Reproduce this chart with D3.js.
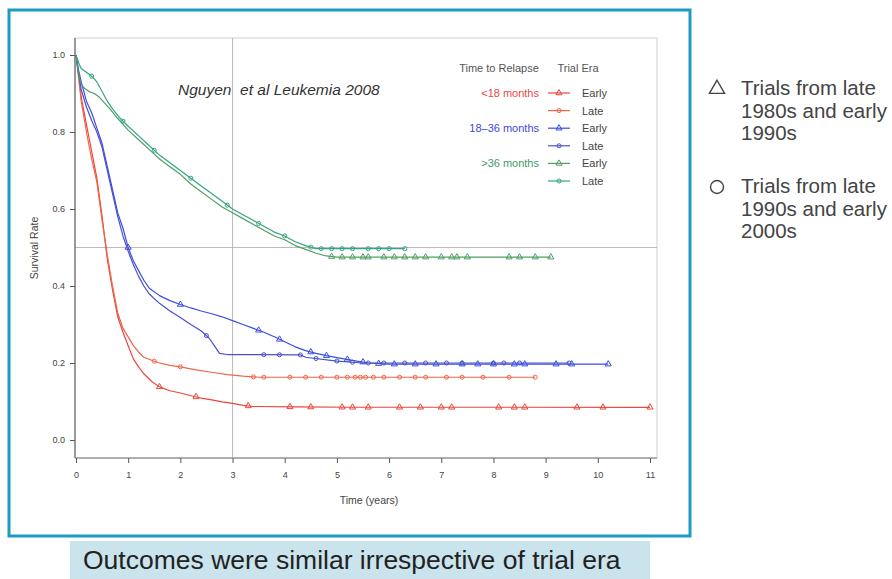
<!DOCTYPE html>
<html>
<head>
<meta charset="utf-8">
<script src="https://cdn.jsdelivr.net/npm/d3@7"></script>
<style>
  html, body { margin: 0; padding: 0; background: #fff; }
  svg { display: block; font-family: "Liberation Sans", Arial, sans-serif; }
</style>
</head>
<body>
<svg id="chart" width="892" height="579"></svg>
<script>
// Kaplan-Meier survival after relapse, by time to relapse and trial era
const yearTicks = [0, 1, 2, 3, 4, 5, 6, 7, 8, 9, 10, 11];
const rateTicks = [0, 0.2, 0.4, 0.6, 0.8, 1.0];

// survival points [years, rate]
const lt18Early = [[0,1],[0.05,0.95],[0.1,0.89],[0.2,0.82],[0.3,0.75],[0.4,0.68],[0.5,0.58],[0.6,0.47],[0.7,0.39],[0.8,0.32],[0.9,0.28],[1.0,0.245],[1.1,0.21],[1.2,0.19],[1.3,0.172],[1.45,0.152],[1.6,0.138],[1.8,0.128],[2.0,0.122],[2.2,0.115],[2.4,0.109],[2.6,0.104],[2.8,0.099],[3.0,0.095],[3.2,0.09],[3.4,0.087],[4.2,0.086],[5.3,0.085],[11.0,0.085]];
const lt18Late = [[0,1],[0.05,0.94],[0.1,0.88],[0.2,0.8],[0.3,0.73],[0.4,0.67],[0.5,0.57],[0.6,0.48],[0.7,0.40],[0.8,0.33],[0.9,0.29],[1.0,0.268],[1.1,0.245],[1.2,0.228],[1.3,0.215],[1.45,0.207],[1.6,0.2],[1.8,0.194],[2.0,0.19],[2.3,0.182],[2.6,0.176],[2.9,0.17],[3.2,0.166],[3.5,0.163],[8.8,0.163]];
const mid36Early = [[0,1],[0.05,0.96],[0.1,0.93],[0.2,0.88],[0.3,0.85],[0.4,0.81],[0.5,0.77],[0.6,0.71],[0.7,0.65],[0.8,0.59],[0.9,0.55],[1.0,0.5],[1.1,0.465],[1.2,0.44],[1.3,0.415],[1.4,0.395],[1.6,0.375],[1.8,0.362],[2.0,0.352],[2.2,0.343],[2.4,0.335],[2.6,0.328],[2.8,0.32],[3.0,0.31],[3.2,0.3],[3.4,0.29],[3.6,0.28],[3.8,0.268],[4.0,0.255],[4.2,0.242],[4.4,0.232],[4.6,0.225],[4.8,0.219],[5.0,0.214],[5.3,0.207],[5.6,0.2],[6.0,0.197],[10.2,0.197]];
const mid36Late = [[0,1],[0.05,0.95],[0.1,0.91],[0.2,0.865],[0.3,0.83],[0.4,0.8],[0.5,0.76],[0.6,0.7],[0.7,0.64],[0.8,0.58],[0.9,0.53],[1.0,0.49],[1.1,0.455],[1.2,0.425],[1.3,0.4],[1.4,0.38],[1.6,0.355],[1.8,0.335],[2.0,0.318],[2.2,0.3],[2.4,0.283],[2.55,0.265],[2.65,0.245],[2.75,0.225],[2.9,0.222],[4.3,0.221],[4.4,0.215],[5.0,0.205],[5.5,0.2],[9.45,0.2]];
const gt36Early = [[0,1],[0.03,0.97],[0.08,0.93],[0.15,0.915],[0.25,0.905],[0.35,0.9],[0.45,0.89],[0.55,0.875],[0.65,0.86],[0.8,0.835],[1.0,0.805],[1.2,0.78],[1.4,0.755],[1.6,0.73],[1.8,0.71],[2.0,0.69],[2.2,0.665],[2.4,0.645],[2.6,0.625],[2.8,0.605],[3.0,0.59],[3.2,0.575],[3.4,0.56],[3.6,0.545],[3.8,0.53],[4.0,0.52],[4.2,0.505],[4.4,0.495],[4.6,0.485],[4.8,0.478],[5.0,0.475],[9.1,0.475]];
const gt36Late = [[0,1],[0.05,0.98],[0.1,0.965],[0.2,0.955],[0.3,0.945],[0.4,0.93],[0.5,0.905],[0.6,0.88],[0.7,0.86],[0.85,0.835],[1.0,0.815],[1.2,0.79],[1.4,0.765],[1.6,0.74],[1.8,0.72],[2.0,0.70],[2.2,0.68],[2.4,0.66],[2.6,0.64],[2.8,0.62],[3.0,0.60],[3.2,0.585],[3.4,0.57],[3.6,0.555],[3.8,0.54],[4.0,0.53],[4.2,0.515],[4.4,0.505],[4.6,0.497],[6.3,0.497]];

// censoring times (years)
const lt18EarlyCens = [1.6, 2.3, 3.3, 4.1, 4.5, 5.1, 5.3, 5.6, 6.2, 6.6, 7.0, 7.2, 8.1, 8.4, 8.6, 9.6, 10.1, 11.0];
const lt18LateCens = [1.5, 2.0, 3.4, 3.6, 4.1, 4.4, 4.7, 5.0, 5.2, 5.35, 5.45, 5.55, 5.7, 5.9, 6.2, 6.5, 6.7, 7.1, 7.4, 7.8, 8.3, 8.8];
const mid36EarlyCens = [1.0, 2.0, 3.5, 3.9, 4.5, 4.8, 5.2, 5.5, 5.8, 6.1, 6.5, 6.9, 7.4, 7.7, 8.0, 8.4, 8.6, 9.2, 9.5, 10.2];
const mid36LateCens = [2.5, 3.6, 3.9, 4.3, 4.6, 5.0, 5.3, 5.6, 5.9, 6.3, 6.7, 7.1, 7.4, 8.0, 8.2, 8.5, 9.45];
const gt36EarlyCens = [4.9, 5.1, 5.3, 5.5, 5.6, 5.9, 6.1, 6.3, 6.5, 6.7, 7.0, 7.2, 7.3, 7.5, 8.3, 8.5, 8.8, 9.1];
const gt36LateCens = [0.3, 0.9, 1.5, 2.2, 2.9, 3.5, 4.0, 4.5, 4.7, 4.9, 5.1, 5.3, 5.6, 5.8, 6.0, 6.3];

const groupLabels = ["<18 months", "18\u201336 months", ">36 months"];
const eraLabels = ["Early", "Late"];
const groupColors = ["#e8493e", "#3b49dc", "#3f9a68"];

const series = [
  { pts: lt18Early, cens: lt18EarlyCens, color: "#e8473d", era: 0 },
  { pts: lt18Late, cens: lt18LateCens, color: "#ee6649", era: 1 },
  { pts: mid36Early, cens: mid36EarlyCens, color: "#3a4ee2", era: 0 },
  { pts: mid36Late, cens: mid36LateCens, color: "#4a4fcc", era: 1 },
  { pts: gt36Early, cens: gt36EarlyCens, color: "#4f9f62", era: 0 },
  { pts: gt36Late, cens: gt36LateCens, color: "#35a384", era: 1 }
];

const svg = d3.select("#chart");

// slide frame
svg.append("rect").attr("x", 9).attr("y", 10).attr("width", 681).attr("height", 526)
  .attr("fill", "#fff").attr("stroke", "#1c9cc0").attr("stroke-width", 3);

const x = d3.scaleLinear().domain([0, 11]).range([76, 650]);
const y = d3.scaleLinear().domain([0, 1]).range([440, 55]);

// plot box
svg.append("rect").attr("x", 75).attr("y", 38).attr("width", 582).attr("height", 420)
  .attr("fill", "none").attr("stroke", "#c4c4c4").attr("stroke-width", 0.8);

// reference lines at 3 years and 50%
svg.append("line").attr("x1", x(3)).attr("x2", x(3)).attr("y1", 38).attr("y2", 458)
  .attr("stroke", "#aaa").attr("stroke-width", 0.8);
svg.append("line").attr("x1", 75).attr("x2", 657).attr("y1", y(0.5)).attr("y2", y(0.5))
  .attr("stroke", "#aaa").attr("stroke-width", 0.8);

// axes
const xAxis = svg.append("g").attr("transform", "translate(0,458)")
  .call(d3.axisBottom(x).tickValues(yearTicks).tickSize(5).tickSizeOuter(0).tickPadding(9));
const yAxis = svg.append("g").attr("transform", "translate(75,0)")
  .call(d3.axisLeft(y).tickValues(rateTicks).tickFormat(d3.format(".1f")).tickSize(5).tickSizeOuter(0).tickPadding(5));
[xAxis, yAxis].forEach(g => {
  g.select(".domain").remove();
  g.selectAll(".tick line").attr("stroke", "#555");
  g.selectAll(".tick text").attr("fill", "#444").attr("font-size", 9);
});
svg.append("line").attr("x1", 75).attr("x2", 75).attr("y1", 38).attr("y2", 458)
  .attr("stroke", "#666").attr("stroke-width", 1.2);
svg.append("line").attr("x1", 75).attr("x2", 657).attr("y1", 458).attr("y2", 458)
  .attr("stroke", "#777").attr("stroke-width", 1);

svg.append("text").attr("transform", "translate(38,248) rotate(-90)")
  .attr("text-anchor", "middle").attr("font-size", 10.5).attr("fill", "#444").text("Survival Rate");
svg.append("text").attr("x", 369).attr("y", 504)
  .attr("text-anchor", "middle").attr("font-size", 10.5).attr("fill", "#444").text("Time (years)");

// curves
const line = d3.line().x(d => x(d[0])).y(d => y(d[1]));
const rateAt = (pts, t) => {
  for (let i = 1; i < pts.length; i++) {
    const a = pts[i - 1], b = pts[i];
    if (t <= b[0]) return a[1] + (b[1] - a[1]) * (t - a[0]) / (b[0] - a[0]);
  }
  return pts[pts.length - 1][1];
};
const tri = d3.symbol().type(d3.symbolTriangle).size(16);
const circ = d3.symbol().type(d3.symbolCircle).size(13);

series.forEach(s => {
  svg.append("path").attr("d", line(s.pts)).attr("fill", "none")
    .attr("stroke", s.color).attr("stroke-width", 1.2).attr("stroke-linejoin", "round");
  svg.append("g").selectAll("path").data(s.cens).join("path")
    .attr("transform", t => `translate(${x(t)},${y(rateAt(s.pts, t))})`)
    .attr("d", s.era === 0 ? tri : circ)
    .attr("fill", "none").attr("stroke", s.color).attr("stroke-width", 1);
});

// citation
svg.append("text").attr("x", 178).attr("y", 95).attr("font-size", 15.5)
  .attr("font-style", "italic").attr("fill", "#333").attr("xml:space", "preserve")
  .text("Nguyen  et al Leukemia 2008");

// legend
const lg = svg.append("g").attr("font-size", 11).attr("fill", "#555");
lg.append("text").attr("x", 499).attr("y", 72).attr("text-anchor", "middle").text("Time to Relapse");
lg.append("text").attr("x", 578).attr("y", 72).attr("text-anchor", "middle").text("Trial Era");
series.forEach((s, i) => {
  const ry = 97 + i * 17.6;
  const g = Math.floor(i / 2);
  if (s.era === 0) {
    lg.append("text").attr("x", 539).attr("y", ry).attr("text-anchor", "end")
      .attr("fill", groupColors[g]).text(groupLabels[g]);
  }
  lg.append("line").attr("x1", 548).attr("x2", 570).attr("y1", ry - 4).attr("y2", ry - 4)
    .attr("stroke", s.color).attr("stroke-width", 1.2);
  lg.append("path").attr("transform", `translate(559,${ry - 4})`)
    .attr("d", s.era === 0 ? tri : circ).attr("fill", "none").attr("stroke", s.color);
  lg.append("text").attr("x", 582).attr("y", ry).attr("fill", "#444").text(eraLabels[s.era]);
});

// era key at right
const key = svg.append("g").attr("font-size", 20.5).attr("fill", "#444");
key.append("path").attr("transform", "translate(717,89)")
  .attr("d", d3.symbol().type(d3.symbolTriangle).size(100)()).attr("fill", "none")
  .attr("stroke", "#444").attr("stroke-width", 1.4);
key.append("circle").attr("cx", 717).attr("cy", 187).attr("r", 6.5)
  .attr("fill", "none").attr("stroke", "#444").attr("stroke-width", 1.4);
[["Trials from late", "1980s and early", "1990s"], ["Trials from late", "1990s and early", "2000s"]]
  .forEach((lines, k) => {
    lines.forEach((t, j) => {
      key.append("text").attr("x", 741).attr("y", 95 + k * 98 + j * 22.5).text(t);
    });
  });

// caption
svg.append("rect").attr("x", 70).attr("y", 541).attr("width", 580).attr("height", 38).attr("fill", "#c9e4ec");
svg.append("text").attr("x", 83).attr("y", 569).attr("font-size", 26.5).attr("fill", "#222")
  .text("Outcomes were similar irrespective of trial era");
</script>
</body>
</html>
